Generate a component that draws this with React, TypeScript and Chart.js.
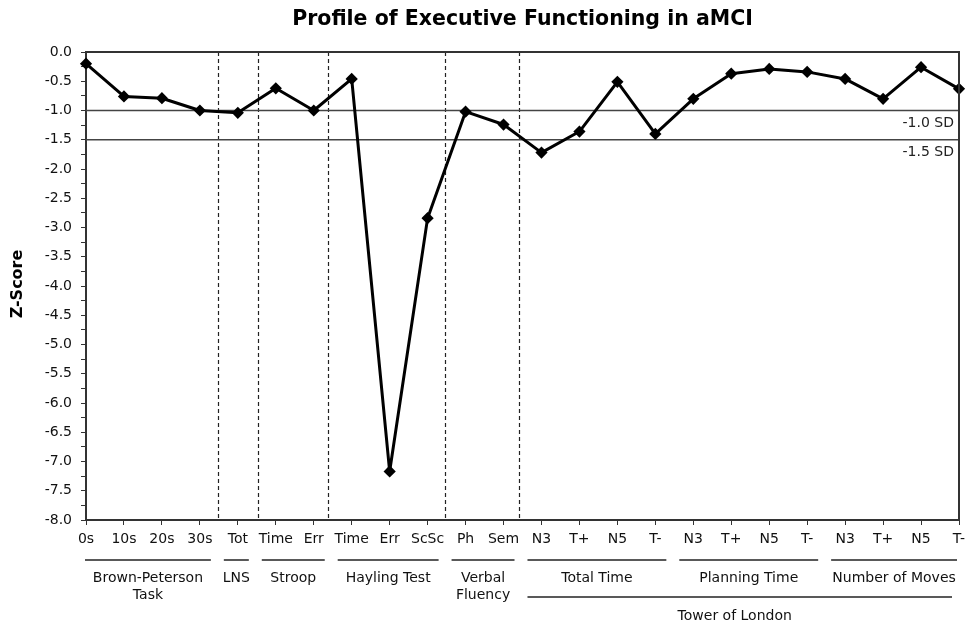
import React, { useEffect, useRef } from "react";
import { Chart, registerables } from "chart.js";

Chart.register(...registerables);

const titleText = "Profile of Executive Functioning in aMCI";
const yTitle = "Z-Score";
const categories = ["0s", "10s", "20s", "30s", "Tot", "Time", "Err", "Time", "Err", "ScSc", "Ph", "Sem", "N3", "T+", "N5", "T-", "N3", "T+", "N5", "T-", "N3", "T+", "N5", "T-"];
const zScores = [-0.2, -0.76, -0.79, -1.0, -1.04, -0.62, -1.0, -0.46, -7.17, -2.84, -1.02, -1.24, -1.72, -1.36, -0.51, -1.4, -0.8, -0.37, -0.29, -0.34, -0.46, -0.8, -0.26, -0.63];
const cutoffs = [-1.0, -1.5];
const cutoffLabels = ["-1.0 SD", "-1.5 SD"];
const separators = [3.47, 4.52, 6.38, 9.45, 11.42];
const groupLabels = [["Brown-Peterson", "Task"], ["LNS"], ["Stroop"], ["Hayling Test"], ["Verbal", "Fluency"], ["Total Time"], ["Planning Time"], ["Number of Moves"]];
const groupStarts = [0, 4, 5, 7, 10, 12, 16, 20];
const groupEnds = [3, 4, 6, 9, 11, 15, 19, 23];
const superLabel = "Tower of London";
const superStart = 12;
const superEnd = 23;
const yMin = -8;
const yMax = 0;

const FONT = "'DejaVu Sans', Verdana, sans-serif";

const decorPlugin = {
  id: "decor",
  beforeDatasetsDraw(chart: any) {
    const { ctx, chartArea } = chart;
    const x = chart.scales.x;
    const y = chart.scales.y;
    ctx.save();
    ctx.strokeStyle = "#222";
    ctx.lineWidth = 1.2;
    ctx.setLineDash([4, 3]);
    separators.forEach((s) => {
      const px = Math.round(x.getPixelForValue(s)) + 0.5;
      ctx.beginPath();
      ctx.moveTo(px, chartArea.top);
      ctx.lineTo(px, chartArea.bottom);
      ctx.stroke();
    });
    ctx.setLineDash([]);
    ctx.strokeStyle = "#444";
    ctx.lineWidth = 1.5;
    cutoffs.forEach((c, i) => {
      const py = y.getPixelForValue(c);
      ctx.beginPath();
      ctx.moveTo(chartArea.left, py);
      ctx.lineTo(chartArea.right, py);
      ctx.stroke();
      ctx.fillStyle = "#222";
      ctx.font = `14px ${FONT}`;
      ctx.textAlign = "right";
      ctx.textBaseline = "middle";
      ctx.fillText(cutoffLabels[i], chartArea.right - 5, py + 13);
    });
    ctx.restore();
  },
  afterDraw(chart: any) {
    const { ctx, chartArea } = chart;
    const x = chart.scales.x;
    ctx.save();
    ctx.strokeStyle = "#333";
    ctx.lineWidth = 2;
    ctx.beginPath();
    ctx.moveTo(chartArea.left, chartArea.top);
    ctx.lineTo(chartArea.right, chartArea.top);
    ctx.lineTo(chartArea.right, chartArea.bottom);
    ctx.stroke();
    ctx.fillStyle = "#000";
    ctx.font = `bold 20.5px ${FONT}`;
    ctx.textAlign = "center";
    ctx.textBaseline = "middle";
    ctx.fillText(titleText, (chartArea.left + chartArea.right) / 2, 20);
    ctx.save();
    ctx.translate(18, (chartArea.top + chartArea.bottom) / 2 - 2);
    ctx.rotate(-Math.PI / 2);
    ctx.font = `bold 16px ${FONT}`;
    ctx.fillText(yTitle, 0, 0);
    ctx.restore();
    const lo = chartArea.left - 1;
    const hi = chartArea.right - 2;
    ctx.strokeStyle = "#222";
    ctx.lineWidth = 1.5;
    ctx.font = `14px ${FONT}`;
    ctx.fillStyle = "#111";
    groupLabels.forEach((lab, i) => {
      const a = Math.max(lo, x.getPixelForValue(groupStarts[i]) - 14);
      const b = Math.min(hi, x.getPixelForValue(groupEnds[i]) + 11);
      ctx.beginPath();
      ctx.moveTo(a, 560);
      ctx.lineTo(b, 560);
      ctx.stroke();
      lab.forEach((t, j) => {
        ctx.fillText(t, (a + b) / 2, 578 + j * 17);
      });
    });
    const sa = Math.max(lo, x.getPixelForValue(superStart) - 14);
    const sb = Math.min(hi, x.getPixelForValue(superEnd) - 7);
    ctx.beginPath();
    ctx.moveTo(sa, 597);
    ctx.lineTo(sb, 597);
    ctx.stroke();
    ctx.fillText(superLabel, (sa + sb) / 2 - 5, 616);
    ctx.restore();
  },
};

export default function App() {
  const ref = useRef<HTMLCanvasElement>(null);
  useEffect(() => {
    if (!ref.current) return;
    const chart = new Chart(ref.current, {
      type: "line",
      data: {
        labels: categories,
        datasets: [
          {
            data: zScores,
            borderColor: "#000",
            backgroundColor: "#000",
            borderWidth: 3,
            borderJoinStyle: "round",
            pointStyle: "rectRot",
            pointRadius: 4,
            pointBackgroundColor: "#000",
            pointBorderColor: "#000",
            tension: 0,
          },
        ],
      },
      options: {
        animation: false,
        responsive: false,
        devicePixelRatio: 1,
        layout: { padding: { top: 52, right: 6, left: 0, bottom: 0 } },
        plugins: {
          legend: { display: false },
          title: { display: false },
          tooltip: { enabled: false },
        },
        scales: {
          x: {
            type: "category",
            offset: false,
            grid: {
              display: true,
              drawOnChartArea: false,
              drawTicks: true,
              tickLength: 5,
              color: "#333",
            },
            border: { display: true, color: "#333", width: 2 },
            ticks: {
              autoSkip: false,
              maxRotation: 0,
              minRotation: 0,
              padding: 6,
              color: "#111",
              font: { family: FONT, size: 14 },
            },
            afterFit(scale: any) {
              scale.height = 104;
              scale.paddingLeft = 0;
              scale.paddingRight = 0;
            },
          },
          y: {
            min: yMin,
            max: yMax,
            grid: {
              display: true,
              drawOnChartArea: false,
              drawTicks: true,
              tickLength: 5,
              color: "#333",
            },
            border: { display: true, color: "#333", width: 2 },
            ticks: {
              stepSize: 0.25,
              autoSkip: false,
              padding: 9,
              color: "#111",
              font: { family: FONT, size: 14 },
              callback: (v: any) => (Math.abs((v as number) * 2 - Math.round((v as number) * 2)) < 1e-6 ? (v as number).toFixed(1) : ""),
            },
            afterFit(scale: any) {
              scale.width = 86;
              scale.paddingTop = 0;
              scale.paddingBottom = 0;
            },
          },
        },
      },
      plugins: [decorPlugin],
    });
    return () => chart.destroy();
  }, []);
  return (
    <div style={{ position: "fixed", left: 0, top: 0, width: 966, height: 624, background: "#fff" }}>
      <canvas ref={ref} width={966} height={624} style={{ width: 966, height: 624, display: "block" }} />
    </div>
  );
}
